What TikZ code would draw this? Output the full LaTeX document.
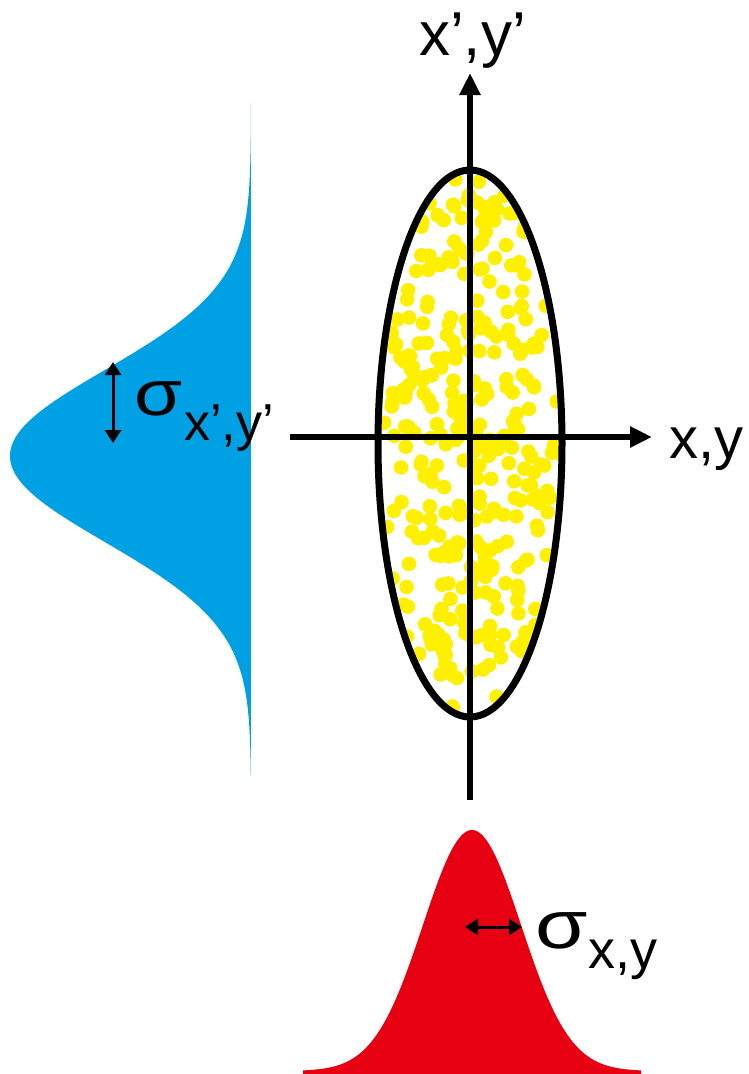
\documentclass[tikz,border=0pt]{standalone}
\usepackage{fontspec}
\setmainfont{Liberation Sans}
\usetikzlibrary{arrows.meta}
\definecolor{gblue}{RGB}{0,160,228}
\definecolor{gred}{RGB}{230,0,18}
\definecolor{dotyellow}{RGB}{255,240,0}
\tikzset{
  axisline/.style={line width=6pt, -{Triangle[length=22pt,width=20pt]}},
  sigarrow/.style={line width=3pt, {Triangle[length=13pt,width=16pt]}-{Triangle[length=13pt,width=16pt]}},
  lbl/.style={inner sep=0pt, anchor=base west},
  dot/.style={fill=dotyellow},
}
\begin{document}
\begin{tikzpicture}[x=1pt,y=-1pt]
\useasboundingbox (0,0) rectangle (749,1074);
% blue projected profile
\fill[gblue] plot[domain=103:776,samples=240] ({251-241*exp(-0.5*((\x-456)/86)^2)},\x) -- cycle;
% red projected profile
\fill[gred] plot[domain=303:641,samples=240] (\x,{1071-241*exp(-0.5*((\x-472)/49)^2)}) -- (641,1074) -- (303,1074) -- cycle;
% particles
\begin{scope}
  \clip (470,443.5) ellipse [x radius=92, y radius=273.5];
  \pgfmathsetseed{11}
  \foreach \i in {1,...,340}{
    \pgfmathsetmacro\ang{360*rnd}
    \pgfmathsetmacro\rr{sqrt(rnd)}
    \fill[dot] ({470+90*\rr*cos(\ang)},{443.5+272*\rr*sin(\ang)}) circle[radius=7.3];
  }
\end{scope}
% ellipse
\draw[line width=7pt] (470,443.5) ellipse [x radius=92, y radius=273.5];
% axes
\coordinate (vb) at (470,800);
\coordinate (vt) at (470,73);
\coordinate (hl) at (290,437);
\coordinate (hr) at (652,437);
\draw[axisline] (vb) -- (vt);
\draw[axisline] (hl) -- (hr);
% sigma arrows
\coordinate (s1a) at (113,362);
\coordinate (s1b) at (113,443);
\draw[sigarrow] (s1a) -- (s1b);
\coordinate (s2a) at (465,927);
\coordinate (s2b) at (522,927);
\draw[sigarrow] (s2a) -- (s2b);
% labels
\node[lbl] (ylab) at (419,55) {\fontsize{62}{62}\selectfont x’,y’};
\node[lbl] (xlab) at (669,458) {\fontsize{58}{58}\selectfont x,y};
\node[lbl] (sig1) at (134,415) {\fontsize{64}{64}\selectfont \scalebox{1.22}[1]{σ}\kern2pt\raisebox{-25pt}{\fontsize{52}{52}\selectfont x’,y’}};
\node[lbl] (sig2) at (535,948) {\fontsize{68}{68}\selectfont \scalebox{1.25}[1]{σ}\kern1pt\raisebox{-20pt}{\fontsize{54}{54}\selectfont x,y}};
\end{tikzpicture}
\end{document}
